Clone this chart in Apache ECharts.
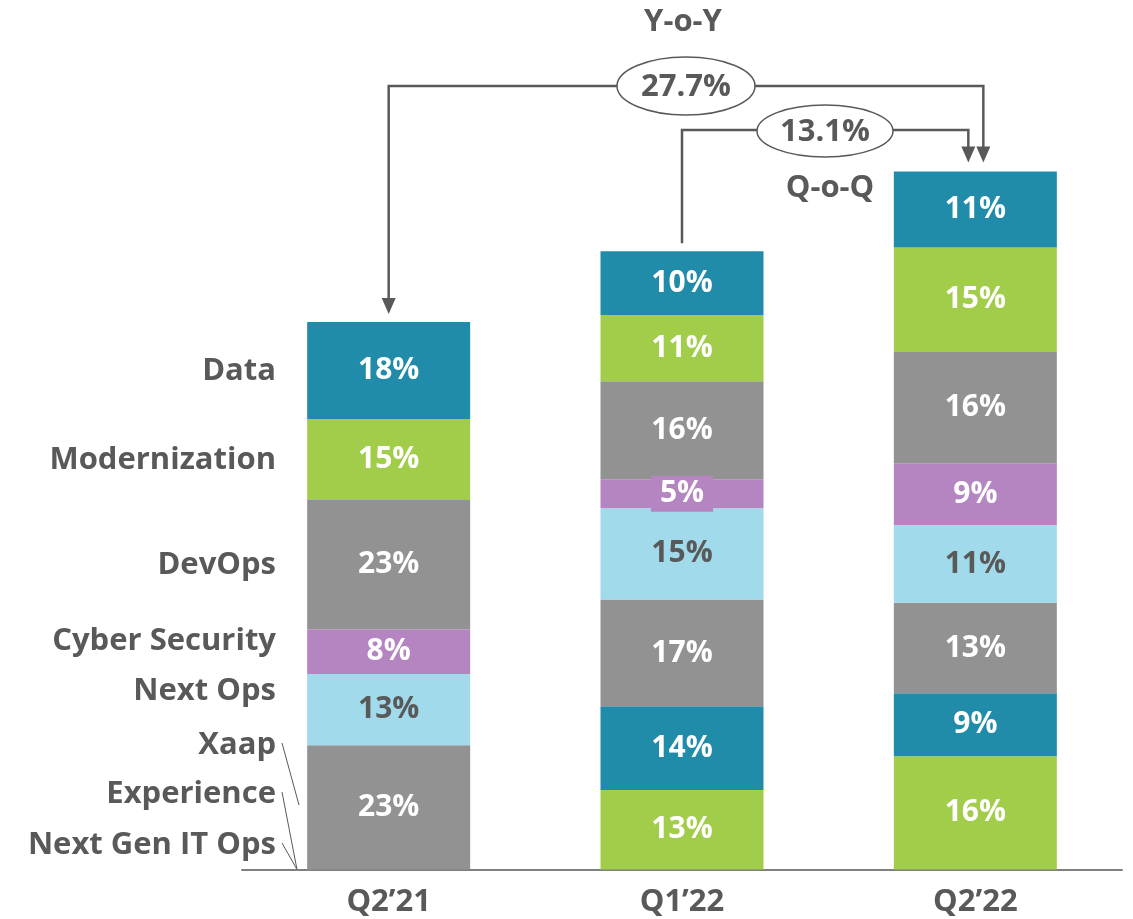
<!DOCTYPE html>
<html>
<head>
<meta charset="utf-8">
<script src="https://cdn.jsdelivr.net/npm/echarts@6/dist/echarts.min.js"></script>
<style>
  * { margin: 0; padding: 0; }
  #main { width: 1133px; height: 919px; }
</style>
</head>
<body>
<div id="main"></div>
<script>
// quarters on the x axis
var quarters = ['Q2’21', 'Q1’22', 'Q2’22'];

// segment names, bottom to top
var segments = ['Next Gen IT Ops', 'Experience', 'Xaap', 'Next Ops', 'Cyber Security', 'DevOps', 'Modernization', 'Data'];

// revenue index (Q2'21 total = 100)
var nextGenItOps  = [0,    14.5, 20.7];
var experience    = [0,    15.3, 11.5];
var xaap          = [22.7, 19.5, 16.5];
var nextOps       = [13.0, 16.7, 14.2];
var cyberSecurity = [8.2,  5.3,  11.3];
var devOps        = [23.6, 17.9, 20.3];
var modernization = [14.8, 12.1, 19.1];
var data          = [17.7, 11.6, 13.9];

// printed share of each quarter (%)
var nextGenItOpsShare  = [null, 13, 16];
var experienceShare    = [null, 14, 9];
var xaapShare          = [23, 17, 13];
var nextOpsShare       = [13, 15, 11];
var cyberSecurityShare = [8, 5, 9];
var devOpsShare        = [23, 16, 16];
var modernizationShare = [15, 11, 15];
var dataShare          = [18, 10, 11];

// growth callouts
var yoyGrowth = '27.7%';
var qoqGrowth = '13.1%';

var values = [nextGenItOps, experience, xaap, nextOps, cyberSecurity, devOps, modernization, data];
var shares = [nextGenItOpsShare, experienceShare, xaapShare, nextOpsShare, cyberSecurityShare, devOpsShare, modernizationShare, dataShare];
var colors = ['#a2cd4a', '#208ca9', '#929292', '#a1daea', '#b485c0', '#929292', '#a2cd4a', '#208ca9'];
var textGrey = '#595959';
var font = '"Open Sans", Lato, sans-serif';
var fs = 31;

var chart = echarts.init(document.getElementById('main'));

var series = values.map(function (vals, si) {
  return {
    name: segments[si],
    type: 'bar',
    stack: 'total',
    barWidth: 163,
    itemStyle: { color: colors[si] },
    label: {
      show: true,
      position: 'inside',
      color: colors[si] === '#a1daea' ? textGrey : '#fff',
      fontFamily: font,
      fontWeight: 'bold',
      fontSize: 30,
      formatter: function (p) {
        var s = shares[si][p.dataIndex];
        return s ? s + '%' : '';
      }
    },
    data: vals.map(function (v) {
      // thin segments get a label box in their own colour
      if (v > 0 && v < 7) {
        return { value: v, label: { backgroundColor: colors[si], padding: [4, 9, 2, 9] } };
      }
      return v;
    })
  };
});

chart.setOption({
  animation: false,
  grid: { left: 242, right: 11, top: 48.25, bottom: 49.5 },
  xAxis: {
    type: 'category',
    data: quarters,
    axisTick: { show: false },
    axisLine: { lineStyle: { color: '#7f7f7f', width: 2 } },
    axisLabel: { color: textGrey, fontFamily: font, fontWeight: 'bold', fontSize: fs, margin: 17 }
  },
  yAxis: { type: 'value', min: 0, max: 150, show: false, splitLine: { show: false } },
  series: series
});

// totals per quarter and pixel anchors
var totals = quarters.map(function (q, i) {
  return values.reduce(function (a, arr) { return a + arr[i]; }, 0);
});
var tops = totals.map(function (t, i) {
  return chart.convertToPixel({ gridIndex: 0 }, [i, t]);
});
var base = chart.convertToPixel({ gridIndex: 0 }, [0, 0]);

var lineStyle = { stroke: textGrey, lineWidth: 2.5, fill: null };
function arrow(x, tipY) {
  return { type: 'polygon', shape: { points: [[x - 7, tipY - 16], [x + 7, tipY - 16], [x, tipY]] }, style: { fill: textGrey } };
}
function bubble(cx, cy, rx, ry, text) {
  return [
    { type: 'ellipse', shape: { cx: cx, cy: cy, rx: rx, ry: ry }, style: { fill: '#fff', stroke: textGrey, lineWidth: 1.5 } },
    { type: 'text', x: cx, y: cy + 1, style: { text: text, align: 'center', verticalAlign: 'middle', fill: textGrey, font: 'bold ' + fs + 'px ' + font } }
  ];
}

var yoyY = 86, qoqY = 130;
var x0 = tops[0][0], x1 = tops[1][0], x2 = tops[2][0];
var gap = 9;

var graphics = [
  // Y-o-Y connector
  { type: 'polyline', shape: { points: [[x0, tops[0][1] - gap - 14], [x0, yoyY], [x2 + 8, yoyY], [x2 + 8, tops[2][1] - gap - 14]] }, style: lineStyle },
  arrow(x0, tops[0][1] - gap + 1),
  arrow(x2 + 8, tops[2][1] - gap),
  // Q-o-Q connector
  { type: 'polyline', shape: { points: [[x1, tops[1][1] - 8], [x1, qoqY], [x2 - 7, qoqY], [x2 - 7, tops[2][1] - gap - 14]] }, style: lineStyle },
  arrow(x2 - 7, tops[2][1] - gap),
  { type: 'text', x: 683, y: 22, style: { text: 'Y-o-Y', align: 'center', verticalAlign: 'middle', fill: textGrey, font: 'bold ' + fs + 'px ' + font } },
  { type: 'text', x: 830, y: 188, style: { text: 'Q-o-Q', align: 'center', verticalAlign: 'middle', fill: textGrey, font: 'bold ' + fs + 'px ' + font } }
].concat(bubble(686, yoyY, 69, 29, yoyGrowth), bubble(825, qoqY + 1, 68, 26, qoqGrowth));

// segment names to the left of the first bar
var nameY = [845, 794, 745, 691, 641, 565, 460, 371];
var nameX = 276;
segments.forEach(function (name, si) {
  graphics.push({ type: 'text', x: nameX, y: nameY[si], style: { text: name, align: 'right', verticalAlign: 'middle', fill: textGrey, font: 'bold ' + fs + 'px ' + font } });
});
// leader lines for the bottom three names
var leaderEnds = [[297, base[1]], [297, base[1]], [299, 805]];
[0, 1, 2].forEach(function (si) {
  graphics.push({ type: 'line', shape: { x1: 282, y1: nameY[si] - 2, x2: leaderEnds[si][0], y2: leaderEnds[si][1] }, style: { stroke: textGrey, lineWidth: 1 } });
});

chart.setOption({ graphic: graphics });
</script>
</body>
</html>
